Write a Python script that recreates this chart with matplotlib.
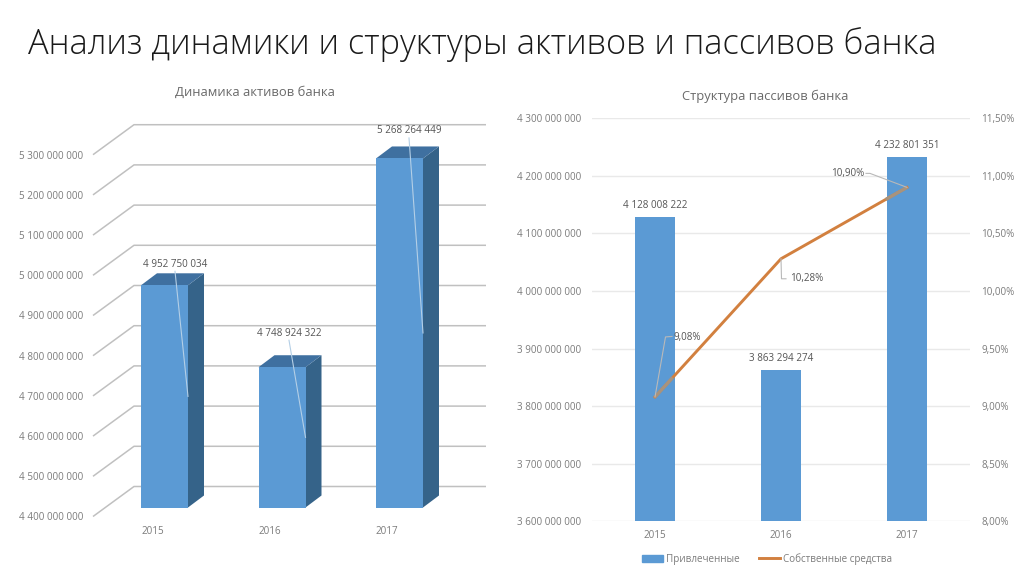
import numpy as np
from matplotlib import pyplot as plt
from matplotlib.lines import Line2D
from matplotlib.patches import Patch

plt.rcParams['font.family'] = ['Open Sans', 'DejaVu Sans']

#Data for the left chart
years = ['2015', '2016', '2017']
assets = [4952750034, 4748924322, 5268264449]
asset_ticks = [4400000000, 4500000000, 4600000000, 4700000000, 4800000000,
               4900000000, 5000000000, 5100000000, 5200000000, 5300000000]

#Data for the right chart
attracted = [4128008222, 3863294274, 4232801351]
own_funds = [9.08, 10.28, 10.90]
attracted_ticks = [3600000000, 3700000000, 3800000000, 3900000000,
                   4000000000, 4100000000, 4200000000, 4300000000]
own_ticks = [8.0, 8.5, 9.0, 9.5, 10.0, 10.5, 11.0, 11.5]

W, H = 1024, 574
GREY_TICK = '#7c7c7c'
GREY_LABEL = '#555555'
GREY_TITLE = '#6a6a6a'
BLUE = '#5b9ad4'
ORANGE = '#d2803f'


def spaced(value):
    return f'{value:,}'.replace(',', ' ')


def add_axes_px(left, top, right, bottom):
    return fig.add_axes([left / W, 1 - bottom / H, (right - left) / W, (bottom - top) / H])


fig = plt.figure(figsize=(W / 100, H / 100), dpi=100, facecolor='white')

fig.text(28 / W, 1 - 44 / H, 'Анализ динамики и структуры активов и пассивов банка',
         fontsize=24.72, color='#1a1a1a', va='center', ha='left', fontweight='light')

#Left chart, fake 3D columns on a normal 2D axes
ax1 = add_axes_px(93, 124, 486, 516.5)
px_x = 1 / 117.5            #category units per pixel
px_y = 100000000 / 40.2     #value units per pixel
ax1.set_xlim(-71.5 * px_x, 321.5 * px_x)
ax1.set_ylim(asset_ticks[0], asset_ticks[0] + 392.5 * px_y)
x_left, x_right = ax1.get_xlim()

#Side wall lines and back wall gridlines
for t in asset_ticks:
    ax1.plot([x_left, x_left + 41 * px_x, x_right], [t, t + 30 * px_y, t + 30 * px_y],
             color='#c0c0c0', lw=1.1, clip_on=False, zorder=1, solid_capstyle='butt')

bar_w = 47 * px_x
lift = 9 * px_y
bar_x = np.arange(len(years))
ax1.bar(bar_x, np.array(assets) - asset_ticks[0], bar_w, bottom=asset_ticks[0] + lift,
        color=BLUE, zorder=3)
dx, dy = 16 * px_x, 12 * px_y
for x, v in zip(bar_x, assets):
    xr, xl = x + bar_w / 2, x - bar_w / 2
    base, top = asset_ticks[0] + lift, v + lift
    ax1.fill([xr, xr + dx, xr + dx, xr], [base, base + dy, top + dy, top],
             color='#356389', lw=0, zorder=2)
    ax1.fill([xl, xl + dx, xr + dx, xr], [top, top + dy, top + dy, top],
             color='#3f70a0', lw=0, zorder=2)

#Value labels with their thin leaders, label offsets are in pixels from the bar top
label_offsets = [(10.5, 21), (7, 34), (9.5, 27.5)]
for x, v, (ox, oy) in zip(bar_x, assets, label_offsets):
    top = v + lift
    ax1.text(x + ox * px_x, top + oy * px_y, spaced(v), fontsize=7.1, color=GREY_LABEL,
             ha='center', va='center', zorder=5)
    mid = asset_ticks[0] + lift + (v - asset_ticks[0]) / 2
    ax1.plot([x + ox * px_x, x + bar_w / 2], [top + (oy - 7) * px_y, mid],
             color='#b4cfe6', lw=0.8, zorder=4)

ax1.set_yticks(asset_ticks)
ax1.set_yticklabels([spaced(t) for t in asset_ticks])
ax1.set_xticks(bar_x - bar_w / 2)
ax1.set_xticklabels(years, ha='left')
ax1.tick_params(axis='y', length=0, pad=7.2, labelsize=7.1, labelcolor=GREY_TICK)
ax1.tick_params(axis='x', length=0, pad=6.8, labelsize=7.1, labelcolor=GREY_TICK)
for s in ax1.spines.values():
    s.set_visible(False)
fig.text(255 / W, 1 - 92 / H, 'Динамика активов банка', fontsize=9.4, color=GREY_TITLE,
         ha='center', va='center')

#Right chart, columns with a line on a second y axis
ax2 = add_axes_px(592, 118.3, 970, 521.3)
ax2.set_xlim(-0.5, 2.5)
ax2.set_ylim(attracted_ticks[0], attracted_ticks[-1])
ax2.set_axisbelow(True)
ax2.grid(axis='y', color='#e9e9e9', lw=1)
ax2.bar(bar_x, attracted, 0.31, color=BLUE, zorder=3)
for x, v in zip(bar_x, attracted):
    ax2.annotate(spaced(v), (x, v), xytext=(0, 11.5), textcoords='offset pixels', fontsize=7.1,
                 color=GREY_LABEL, ha='center', va='center')
ax2.set_yticks(attracted_ticks)
ax2.set_yticklabels([spaced(t) for t in attracted_ticks])
ax2.set_xticks(bar_x)
ax2.set_xticklabels(years)
ax2.tick_params(axis='y', length=0, pad=8, labelsize=7.1, labelcolor=GREY_TICK)
ax2.tick_params(axis='x', length=0, pad=6.5, labelsize=7.1, labelcolor=GREY_TICK)

ax3 = ax2.twinx()
ax3.set_ylim(own_ticks[0], own_ticks[-1])
ax3.plot(bar_x, own_funds, color=ORANGE, lw=2.1, zorder=4, solid_joinstyle='round')

#The line goes grey where the leaders at both ends run along it
for i, j, part in [(0, 1, 0.14), (2, 1, 0.17)]:
    ax3.plot([bar_x[i], bar_x[i] + part * (bar_x[j] - bar_x[i])],
             [own_funds[i], own_funds[i] + part * (own_funds[j] - own_funds[i])],
             color='#a8937d', lw=2.3, zorder=4.5, solid_capstyle='butt')

ax3.set_yticks(own_ticks)
ax3.set_yticklabels([f'{t:.2f}%'.replace('.', ',') for t in own_ticks])
ax3.tick_params(axis='y', length=0, pad=8, labelsize=7.1, labelcolor=GREY_TICK)
for a in (ax2, ax3):
    for s in a.spines.values():
        s.set_visible(False)

#Percent labels with bent leaders, offsets are in pixels from the line point
px2_x = 1 / 126
px2_y = 3.5 / 403
leader_paths = [[(0, 0), (10.5, 60), (17, 60.5)], [(0, 0), (0.5, -20), (5, -20)],
                [(0, 0), (-37, 14), (-41, 14)]]
pct_offsets = [(32, 59.5), (26, -20), (-59, 14)]
for x, v, path, (ox, oy) in zip(bar_x, own_funds, leader_paths, pct_offsets):
    ax3.plot([x + p[0] * px2_x for p in path], [v + p[1] * px2_y for p in path],
             color='#b9b9b9', lw=0.8, zorder=5)
    ax3.text(x + ox * px2_x, v + oy * px2_y, f'{v:.2f}%'.replace('.', ','), fontsize=7.1,
             color=GREY_LABEL, ha='center', va='center', zorder=6)

fig.text(765 / W, 1 - 96 / H, 'Структура пассивов банка', fontsize=9.4, color=GREY_TITLE,
         ha='center', va='center')

handles = [Patch(color=BLUE), Line2D([0], [0], color=ORANGE, lw=2.1)]
fig.legend(handles, ['Привлеченные', 'Собственные средства'], loc='center',
           bbox_to_anchor=(767 / W, 1 - 559 / H), ncol=2, frameon=False, fontsize=7.1,
           labelcolor=GREY_TICK, handlelength=2.1, handletextpad=0.3, columnspacing=2.0)

fig.savefig('out.png', dpi=100)
